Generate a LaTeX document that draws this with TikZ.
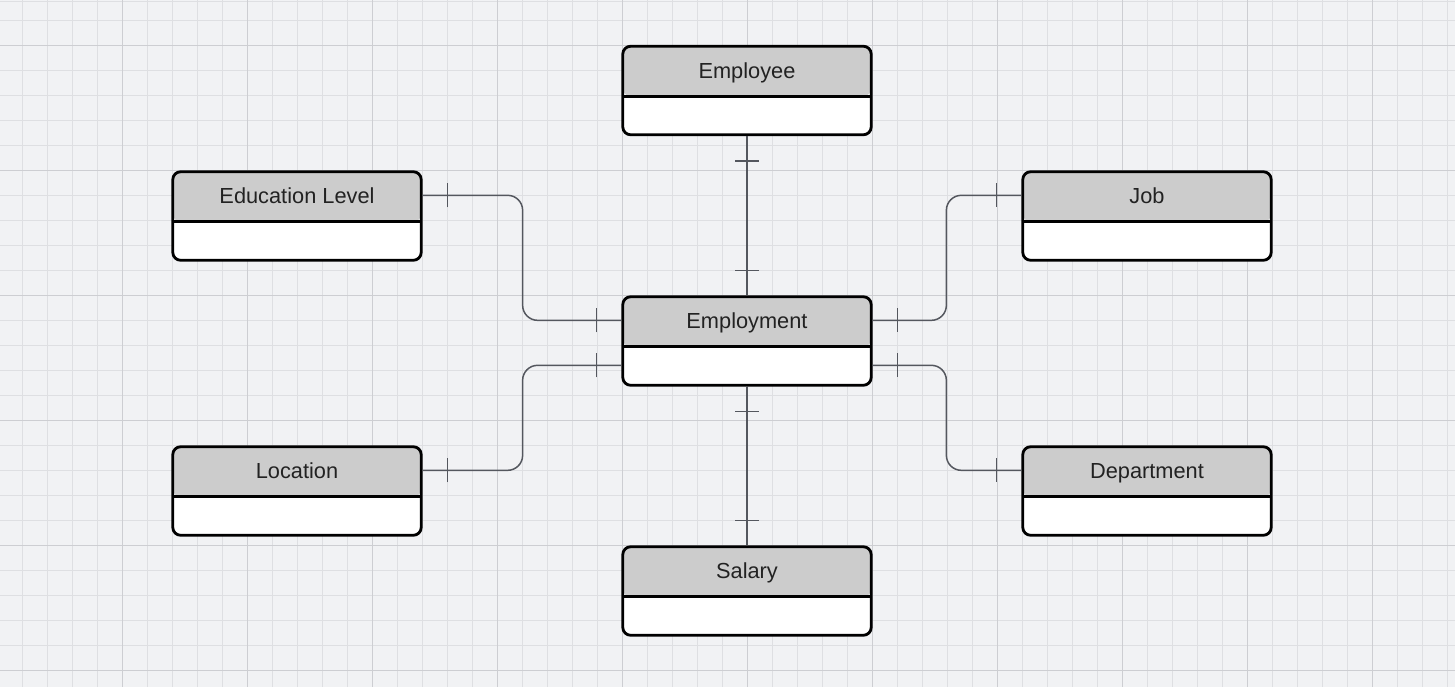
\documentclass[tikz,border=0pt]{standalone}
\usepackage{fontspec}
\setmainfont{Liberation Sans}
\usetikzlibrary{decorations.markings}
\definecolor{canvas}{HTML}{F1F2F4}
\definecolor{minorline}{HTML}{DEDFE2}
\definecolor{majorline}{HTML}{CDCED2}
\definecolor{head}{HTML}{CCCCCC}
\definecolor{wire}{HTML}{54575E}
\definecolor{ink}{HTML}{222222}

\tikzset{
  entity/.style={draw=black, line width=1.6pt, rounded corners=4.5pt, fill=white,
    minimum width=4.97cm, inner ysep=0pt, text height=18.1pt, text depth=32.3pt,
    font=\fontsize{12.4}{15}\selectfont, text=ink,
    path picture={
      \fill[head] (path picture bounding box.north west) rectangle ([yshift=-1cm]path picture bounding box.north east);
      \draw[line width=1.6pt] ([yshift=-1cm]path picture bounding box.north west) -- ([yshift=-1cm]path picture bounding box.north east);
    }},
  link/.style={draw=wire, line width=0.85pt, rounded corners=0.3cm, postaction={decorate},
    decoration={markings,
      mark=at position 0.5cm with {\draw[wire, line width=0.85pt] (0,-0.24cm) -- (0,0.24cm);},
      mark=at position -0.5cm with {\draw[wire, line width=0.85pt] (0,-0.24cm) -- (0,0.24cm);}}},
  minor/.style={draw=minorline, line width=0.5pt},
  major/.style={draw=majorline, line width=0.5pt}
}

\begin{document}
\begin{tikzpicture}[x=0.02cm, y=-0.02cm]
\useasboundingbox (0,0) rectangle (1455,687);
\fill[canvas] (0,0) rectangle (1455,687);
\draw[minor] (0,1) -- (1455,1);
\foreach \x in {22,47,...,1447} \draw[minor] (\x,0) -- (\x,687);
\foreach \y in {20,45,...,670} \draw[minor] (0,\y) -- (1455,\y);
\foreach \x in {122,247,...,1372} \draw[major] (\x,0) -- (\x,687);
\foreach \y in {45,170,...,670} \draw[major] (0,\y) -- (1455,\y);

\node[entity] (employee) at (747,90.5) {Employee};
\node[entity] (edu) at (297,216) {Education Level};
\node[entity] (job) at (1147,216) {Job};
\node[entity] (employment) at (747,341) {Employment};
\node[entity] (location) at (297,491) {Location};
\node[entity] (department) at (1147,491) {Department};
\node[entity] (salary) at (747,591) {Salary};

\draw[link] (employee.south) -- (employment.north);
\draw[link] (employment.south) -- (salary.north);
\draw[link] ([yshift=-0.5cm]edu.north east) -- ++(100,0) |- ([yshift=-0.5cm]employment.north west);
\draw[link] ([yshift=-0.5cm]location.north east) -- ++(100,0) |- ([yshift=-1.4cm]employment.north west);
\draw[link] ([yshift=-0.5cm]job.north west) -- ++(-75,0) |- ([yshift=-0.5cm]employment.north east);
\draw[link] ([yshift=-0.5cm]department.north west) -- ++(-75,0) |- ([yshift=-1.4cm]employment.north east);
\end{tikzpicture}
\end{document}
